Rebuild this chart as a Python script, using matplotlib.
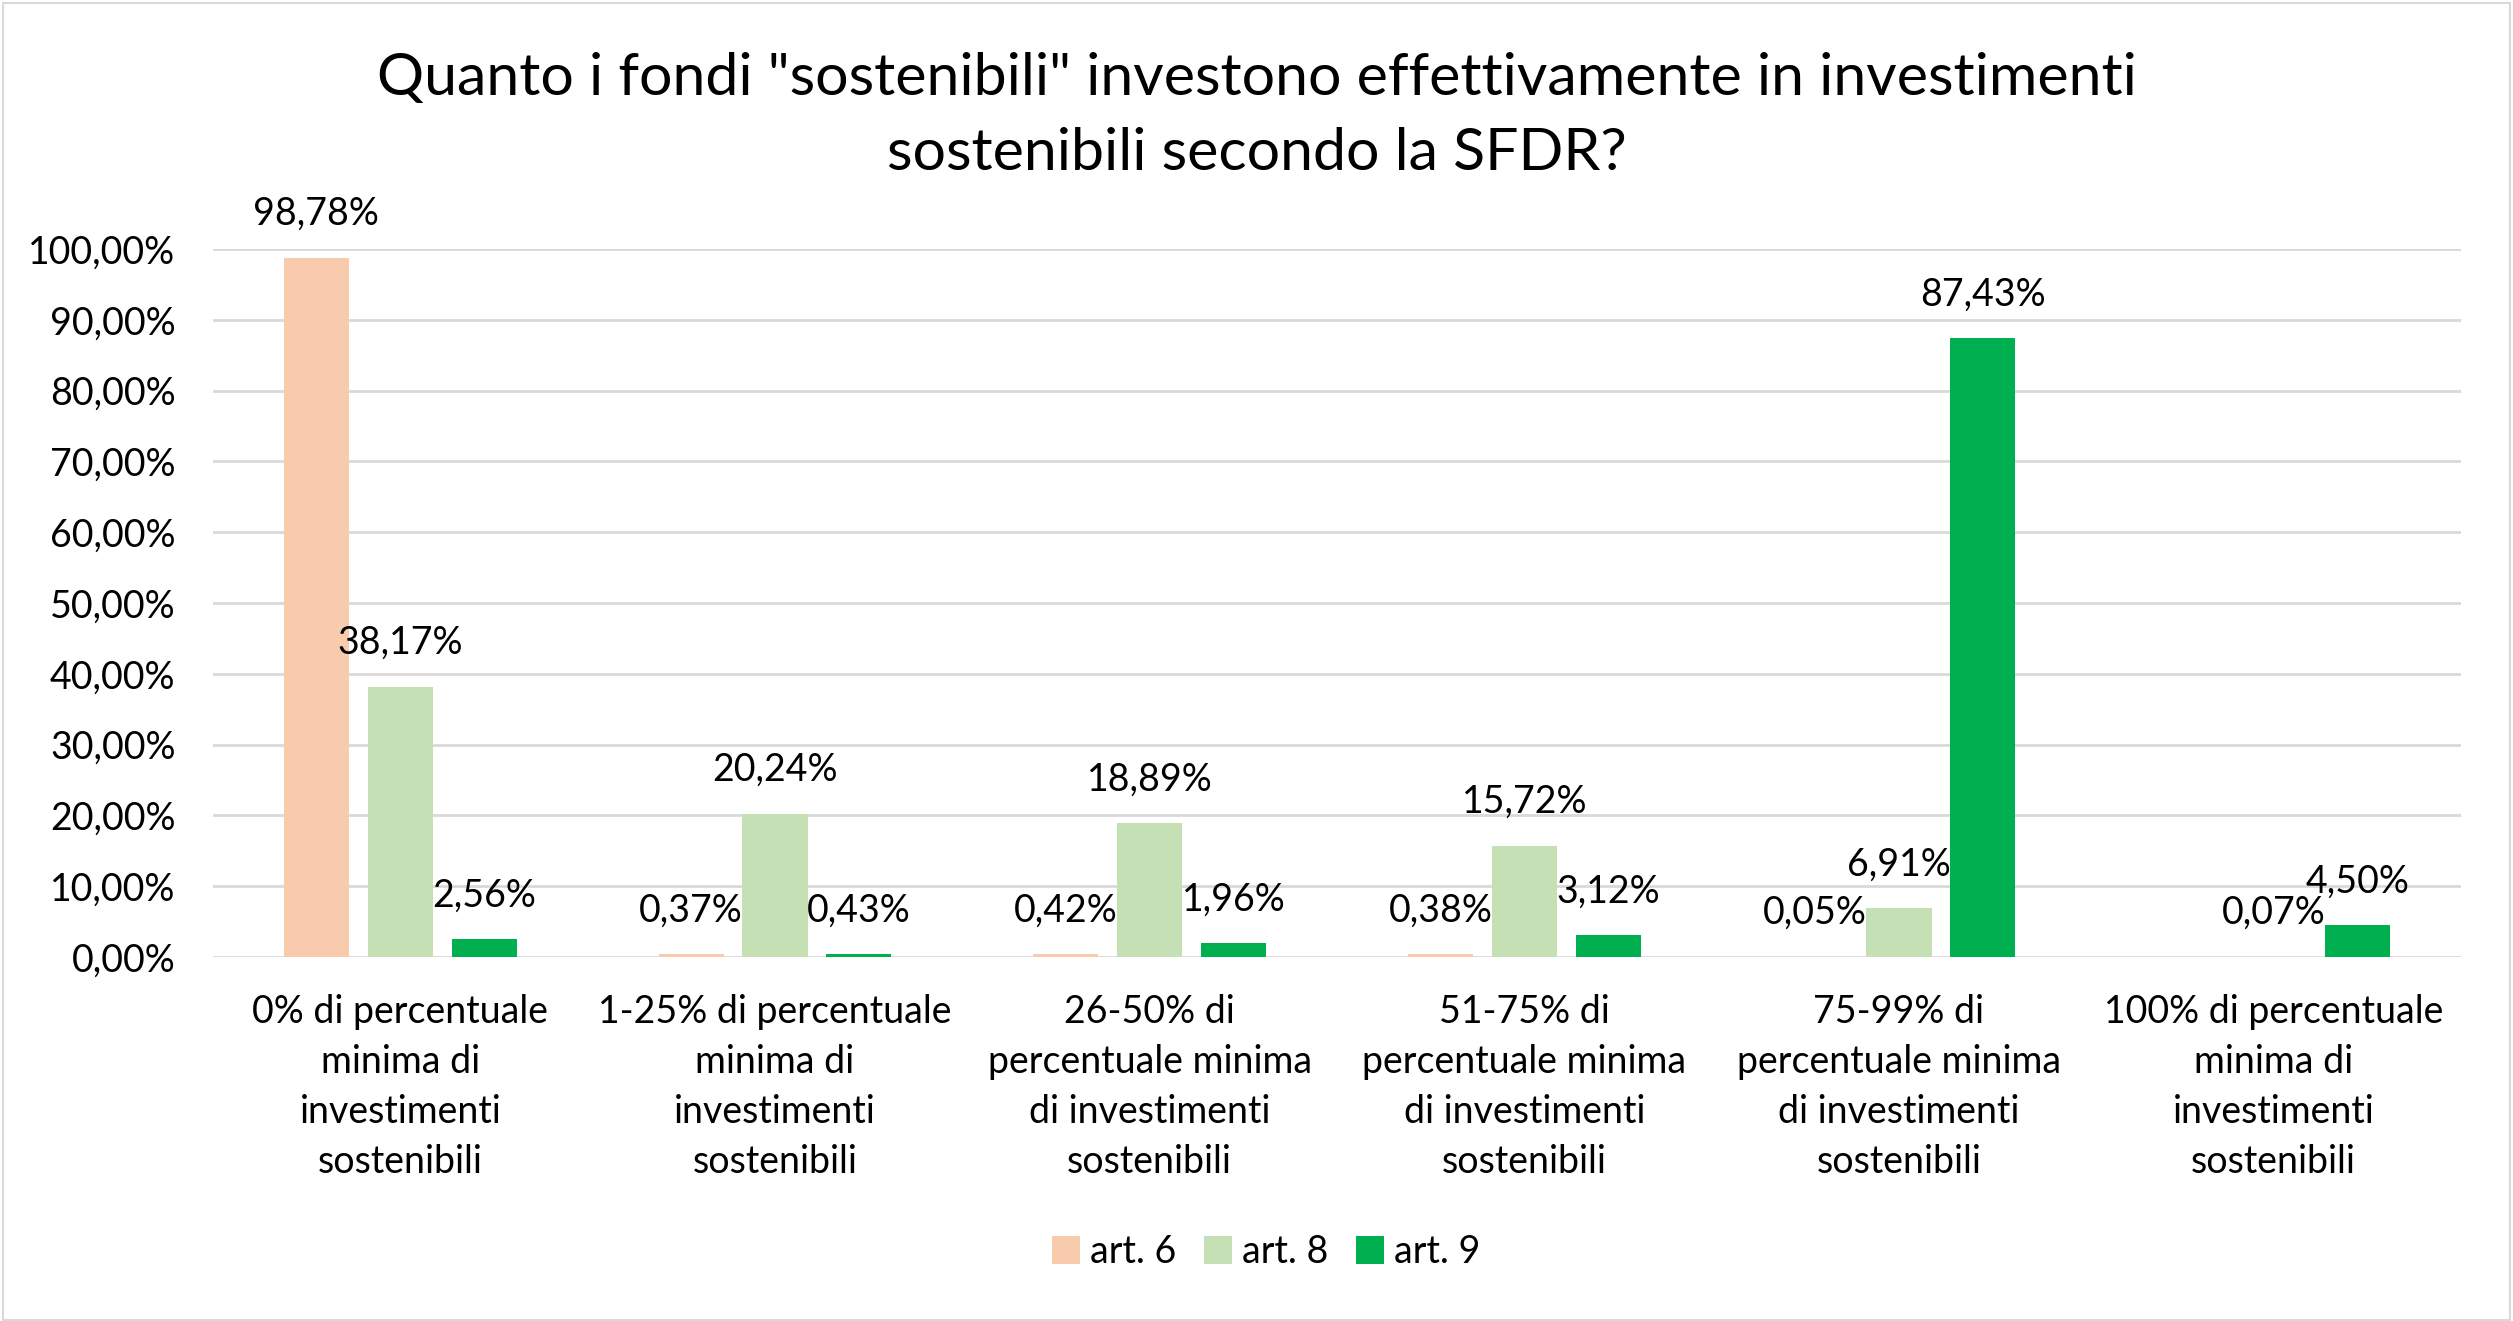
import matplotlib
matplotlib.use("Agg")
import matplotlib.pyplot as plt
from matplotlib.patches import Rectangle
import numpy as np

plt.rcParams['font.family'] = ['Lato', 'DejaVu Sans']

categories = [
    "0% di percentuale\nminima di\ninvestimenti\nsostenibili",
    "1-25% di percentuale\nminima di\ninvestimenti\nsostenibili",
    "26-50% di\npercentuale minima\ndi investimenti\nsostenibili",
    "51-75% di\npercentuale minima\ndi investimenti\nsostenibili",
    "75-99% di\npercentuale minima\ndi investimenti\nsostenibili",
    "100% di percentuale\nminima di\ninvestimenti\nsostenibili",
]
series_names = ["art. 6", "art. 8", "art. 9"]
art6 = [98.78, 0.37, 0.42, 0.38, 0.05, None]
art8 = [38.17, 20.24, 18.89, 15.72, 6.91, 0.07]
art9 = [2.56, 0.43, 1.96, 3.12, 87.43, 4.50]
colors = ["#F8CBAD", "#C5E0B4", "#00B050"]
yticks = [0, 10, 20, 30, 40, 50, 60, 70, 80, 90, 100]
title = 'Quanto i fondi "sostenibili" investono effettivamente in investimenti\nsostenibili secondo la SFDR?'

W, H = 2513, 1321
fig = plt.figure(figsize=(W / 100, H / 100), dpi=100)
fig.patches.append(Rectangle((0.001, 0.001), 0.998, 0.997, transform=fig.transFigure,
                             fill=False, edgecolor="#D9D9D9", linewidth=1.5))

ax = fig.add_axes([213 / W, 1 - 957 / H, (2461 - 213) / W, (957 - 249) / H])

x = np.arange(len(categories))
offset = 0.224
width = 0.1735
fs = 27

for i, (vals, name, col) in enumerate(zip([art6, art8, art9], series_names, colors)):
    xs = [xi + (i - 1) * offset for xi, v in zip(x, vals) if v is not None]
    vs = [v for v in vals if v is not None]
    ax.bar(xs, vs, width=width, color=col, label=name, zorder=3)
    for xx, v in zip(xs, vs):
        ax.annotate(f"{v:.2f}%".replace(".", ","), (xx, v), xytext=(0, 23.5),
                    textcoords="offset points", ha="center", va="baseline",
                    fontsize=fs, color="#000000", annotation_clip=False)

ax.set_xlim(-0.5, len(categories) - 0.5)
ax.set_ylim(0, 100)
ax.set_yticks(yticks)
ax.set_yticklabels([f"{t:.2f}%".replace(".", ",") for t in yticks], fontsize=fs)
ax.set_xticks(x)
ax.set_xticklabels(categories, fontsize=fs, linespacing=1.49)
ax.tick_params(axis="both", length=0)
ax.tick_params(axis="y", pad=27)
ax.tick_params(axis="x", pad=26.5)
ax.grid(axis="y", color="#D9D9D9", linewidth=2, zorder=0)
for s in ax.spines.values():
    s.set_visible(False)

fig.text(0.5, 1 - 116 / H, title, ha="center", va="center", fontsize=42.5,
         linespacing=1.49, color="#000000")

fig.legend(loc="center", bbox_to_anchor=(1266 / W, 1 - 1252 / H), ncol=3,
           frameon=False, fontsize=fs, handlelength=0.75, handleheight=0.75,
           handletextpad=0.25, columnspacing=0.75)

fig.savefig("out.png", dpi=100, facecolor="white")
